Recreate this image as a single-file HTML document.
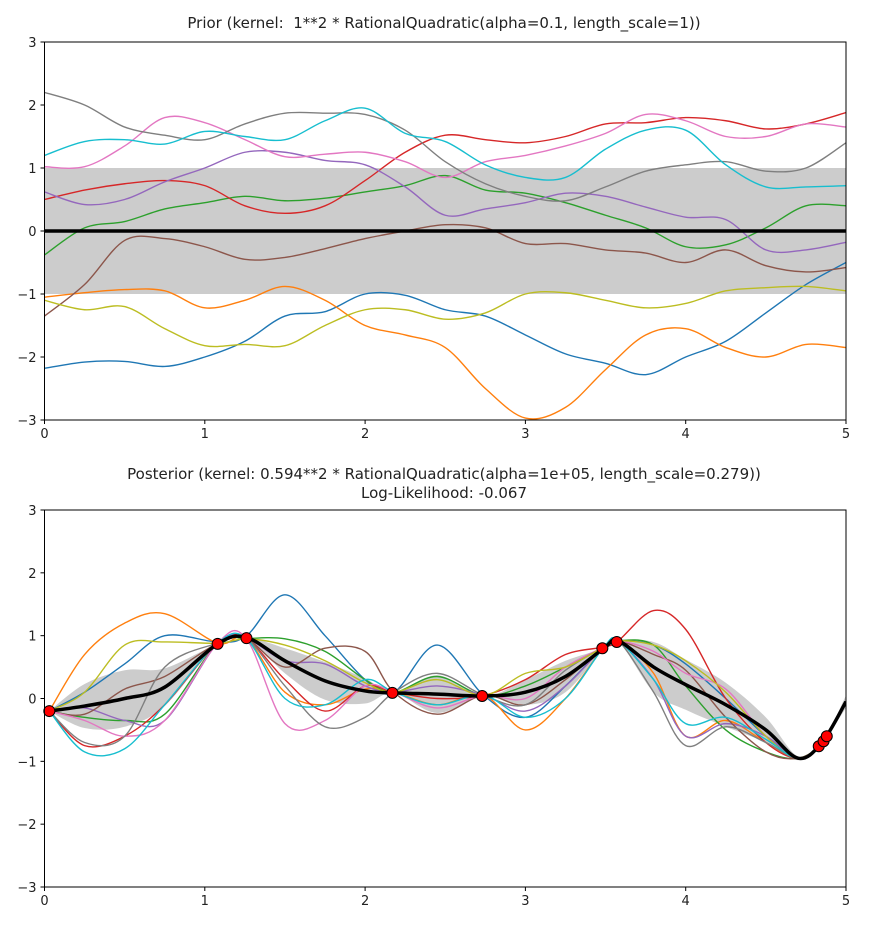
<!DOCTYPE html>
<html><head><meta charset="utf-8"><style>
body{margin:0;background:#fff;}
svg text{font-family:"DejaVu Sans","Liberation Sans",sans-serif;fill:#222;}
</style></head><body>
<svg id="fig" width="877" height="935" xmlns="http://www.w3.org/2000/svg">
<rect width="877" height="935" fill="#fff"/>
<g id="top"></g>
<g id="bot"></g>
<text x="444" y="28" font-size="15" text-anchor="middle">Prior (kernel:&#160; 1**2 * RationalQuadratic(alpha=0.1, length_scale=1))</text>
<text x="444" y="479" font-size="15" text-anchor="middle">Posterior (kernel: 0.594**2 * RationalQuadratic(alpha=1e+05, length_scale=0.279))</text>
<text x="444" y="498" font-size="15" text-anchor="middle">Log-Likelihood: -0.067</text>
</svg>
<script>
const colors=['#1f77b4','#ff7f0e','#2ca02c','#d62728','#9467bd','#8c564b','#e377c2','#7f7f7f','#bcbd22','#17becf'];
const xTicks=[0,1,2,3,4,5];
const yTicks=[-3,-2,-1,0,1,2,3];
const priorXs=[0,0.25,0.5,0.75,1,1.25,1.5,1.75,2,2.25,2.5,2.75,3,3.25,3.5,3.75,4,4.25,4.5,4.75,5];
const priorBlue=[-2.18,-2.08,-2.07,-2.15,-2.0,-1.75,-1.35,-1.28,-1.0,-1.02,-1.25,-1.35,-1.65,-1.95,-2.1,-2.28,-2.0,-1.75,-1.3,-0.85,-0.5];
const priorOrange=[-1.05,-0.98,-0.93,-0.95,-1.22,-1.1,-0.88,-1.1,-1.5,-1.65,-1.85,-2.5,-2.97,-2.8,-2.2,-1.65,-1.55,-1.85,-2.0,-1.8,-1.85];
const priorGreen=[-0.38,0.05,0.15,0.35,0.45,0.55,0.48,0.52,0.62,0.72,0.88,0.65,0.6,0.45,0.25,0.05,-0.25,-0.22,0.05,0.4,0.4];
const priorRed=[0.5,0.65,0.75,0.8,0.72,0.4,0.28,0.4,0.8,1.25,1.52,1.45,1.4,1.5,1.7,1.72,1.8,1.75,1.62,1.7,1.88];
const priorPurple=[0.62,0.42,0.5,0.78,1.0,1.25,1.25,1.12,1.05,0.7,0.25,0.35,0.45,0.6,0.55,0.38,0.22,0.18,-0.3,-0.3,-0.18];
const priorBrown=[-1.35,-0.85,-0.15,-0.12,-0.25,-0.45,-0.42,-0.28,-0.12,0.0,0.1,0.05,-0.2,-0.2,-0.3,-0.35,-0.5,-0.3,-0.55,-0.65,-0.58];
const priorPink=[1.02,1.02,1.35,1.8,1.72,1.45,1.18,1.22,1.25,1.1,0.85,1.1,1.2,1.35,1.55,1.85,1.75,1.5,1.5,1.7,1.65];
const priorGray=[2.2,2.0,1.65,1.52,1.45,1.7,1.87,1.87,1.85,1.6,1.1,0.75,0.55,0.48,0.7,0.95,1.05,1.1,0.95,1.0,1.4];
const priorOlive=[-1.1,-1.25,-1.2,-1.55,-1.82,-1.8,-1.82,-1.5,-1.25,-1.25,-1.4,-1.3,-1.0,-0.98,-1.1,-1.22,-1.15,-0.95,-0.9,-0.88,-0.95];
const priorCyan=[1.2,1.42,1.45,1.38,1.58,1.5,1.45,1.75,1.95,1.55,1.42,1.05,0.85,0.85,1.3,1.6,1.6,1.05,0.7,0.7,0.72];
const priorMean=[0,0,0,0,0,0,0,0,0,0,0,0,0,0,0,0,0,0,0,0,0];
const priorStd=[1,1,1,1,1,1,1,1,1,1,1,1,1,1,1,1,1,1,1,1,1];
const postXs=[0.03,0.25,0.5,0.75,1.08,1.26,1.5,1.75,2.0,2.18,2.45,2.74,3.0,3.25,3.49,3.58,3.8,4.0,4.25,4.5,4.7,4.85,5.0];
const postMean=[-0.2,-0.12,0.0,0.18,0.87,0.97,0.6,0.28,0.12,0.09,0.07,0.04,0.1,0.35,0.8,0.92,0.5,0.22,-0.1,-0.5,-0.95,-0.7,-0.05];
const postStd=[0,0.35,0.45,0.3,0,0,0.2,0.3,0.2,0,0.3,0,0.2,0.25,0,0,0.4,0.4,0.35,0.2,0.03,0,0.1];
const postBlue=[-0.2,0.1,0.55,1.0,0.9,1.0,1.65,1.0,0.3,0.1,0.85,0.05,-0.3,0.2,0.82,0.92,0.85,0.55,0.0,-0.6,-0.95,-0.7,-0.05];
const postOrange=[-0.2,0.7,1.2,1.35,0.88,0.95,0.1,-0.1,0.15,0.1,-0.1,0.05,-0.5,0.0,0.82,0.92,0.4,-0.6,-0.35,-0.7,-0.95,-0.7,-0.05];
const postGreen=[-0.2,-0.3,-0.35,-0.25,0.88,0.95,0.95,0.75,0.3,0.1,0.35,0.05,0.2,0.5,0.82,0.92,0.85,0.2,-0.5,-0.85,-0.95,-0.7,-0.05];
const postRed=[-0.2,-0.75,-0.6,-0.1,0.88,0.95,0.3,-0.2,0.2,0.1,0.0,0.05,0.3,0.7,0.82,0.92,1.4,1.1,0.0,-0.7,-0.95,-0.7,-0.05];
const postPurple=[-0.2,-0.15,-0.35,-0.35,0.88,0.95,0.6,0.55,0.2,0.1,0.2,0.05,-0.2,0.2,0.82,0.92,0.3,-0.6,-0.4,-0.6,-0.95,-0.7,-0.05];
const postBrown=[-0.2,-0.25,0.15,0.35,0.88,0.95,0.5,0.8,0.75,0.1,-0.25,0.05,-0.1,0.3,0.82,0.92,0.7,0.45,-0.3,-0.85,-0.95,-0.7,-0.05];
const postPink=[-0.2,-0.35,-0.6,-0.35,0.88,0.95,-0.4,-0.35,0.2,0.1,-0.15,0.05,0.0,0.5,0.82,0.92,0.75,0.4,0.15,-0.6,-0.95,-0.7,-0.05];
const postGray=[-0.2,-0.7,-0.6,0.5,0.88,0.95,0.2,-0.45,-0.3,0.1,0.4,0.05,-0.1,0.45,0.82,0.92,0.1,-0.75,-0.45,-0.7,-0.95,-0.7,-0.05];
const postOlive=[-0.2,0.1,0.85,0.9,0.88,0.95,0.85,0.6,0.25,0.1,0.3,0.05,0.4,0.5,0.82,0.92,0.85,0.6,0.1,-0.6,-0.95,-0.7,-0.05];
const postCyan=[-0.2,-0.85,-0.8,-0.1,0.88,0.95,0.0,-0.1,0.3,0.1,-0.1,0.05,-0.3,0.0,0.82,0.92,0.3,-0.4,-0.3,-0.65,-0.95,-0.7,-0.05];
const trainX=[0.03,1.08,1.26,2.17,2.73,3.48,3.57,4.83,4.86,4.88];
const trainY=[-0.2,0.87,0.96,0.09,0.04,0.8,0.9,-0.76,-0.68,-0.6];

const NS='http://www.w3.org/2000/svg';
function mk(tag,attrs,parent){const e=document.createElementNS(NS,tag);for(const k in attrs)e.setAttribute(k,attrs[k]);parent.appendChild(e);return e;}
function spline(pts){
  let d='M'+pts[0][0].toFixed(2)+','+pts[0][1].toFixed(2);
  for(let i=0;i<pts.length-1;i++){
    const p0=pts[Math.max(0,i-1)],p1=pts[i],p2=pts[i+1],p3=pts[Math.min(pts.length-1,i+2)];
    const c1=[p1[0]+(p2[0]-p0[0])/6,p1[1]+(p2[1]-p0[1])/6];
    const c2=[p2[0]-(p3[0]-p1[0])/6,p2[1]-(p3[1]-p1[1])/6];
    d+='C'+c1[0].toFixed(2)+','+c1[1].toFixed(2)+' '+c2[0].toFixed(2)+','+c2[1].toFixed(2)+' '+p2[0].toFixed(2)+','+p2[1].toFixed(2);
  }
  return d;
}
function drawPanel(g,top,bottom,xs,mean,std,samples,tx,ty){
  const L=44.5,R=846;
  const sx=v=>L+(v-0)/(5-0)*(R-L);
  const sy=v=>bottom-(v+3)/6*(bottom-top);
  const clipId='clip'+top;
  const cp=mk('clipPath',{id:clipId},g);mk('rect',{x:L,y:top,width:R-L,height:bottom-top},cp);
  const inner=mk('g',{'clip-path':'url(#'+clipId+')'},g);
  const up=xs.map((x,i)=>[sx(x),sy(mean[i]+std[i])]);
  const lo=xs.map((x,i)=>[sx(x),sy(mean[i]-std[i])]).reverse();
  const band=mk('path',{d:spline(up)+spline(lo).replace('M','L')+'Z',fill:'#000','fill-opacity':'0.2',stroke:'none'},inner);
  
  
  samples.forEach((s,k)=>{
    const p=mk('path',{d:spline(xs.map((x,i)=>[sx(x),sy(s[i])])),fill:'none',stroke:colors[k],'stroke-width':'1.4'},inner);
    
    
  });
  const m=mk('path',{d:spline(xs.map((x,i)=>[sx(x),sy(mean[i])])),fill:'none',stroke:'#000','stroke-width':'3.5'},inner);
  
  
  if(tx){tx.forEach((x,i)=>{
    const c=mk('circle',{cx:sx(x),cy:sy(ty[i]),r:5.5,fill:'#ff0000',stroke:'#000','stroke-width':'1'},g);
    
    
  });}
  const frame=mk('rect',{x:L,y:top,width:R-L,height:bottom-top,fill:'none',stroke:'#000','stroke-width':'1'},g);
  
  
  xTicks.forEach(t=>{
    mk('line',{x1:sx(t),x2:sx(t),y1:bottom,y2:bottom+4,stroke:'#000'},g);
    const tt=mk('text',{x:sx(t),y:bottom+18,'font-size':'13','text-anchor':'middle'},g);tt.textContent=t;
    
    
  });
  yTicks.forEach(t=>{
    mk('line',{x1:L-4,x2:L,y1:sy(t),y2:sy(t),stroke:'#000'},g);
    const tt=mk('text',{x:L-8,y:sy(t)+5,'font-size':'13','text-anchor':'end'},g);tt.textContent=t<0?'\u2212'+(-t):t;
    
    
  });
}
drawPanel(document.getElementById('top'),42,420,priorXs,priorMean,priorStd,
 [priorBlue,priorOrange,priorGreen,priorRed,priorPurple,priorBrown,priorPink,priorGray,priorOlive,priorCyan],null,null);
drawPanel(document.getElementById('bot'),510,887,postXs,postMean,postStd,
 [postBlue,postOrange,postGreen,postRed,postPurple,postBrown,postPink,postGray,postOlive,postCyan],trainX,trainY);
</script>
</body></html>
